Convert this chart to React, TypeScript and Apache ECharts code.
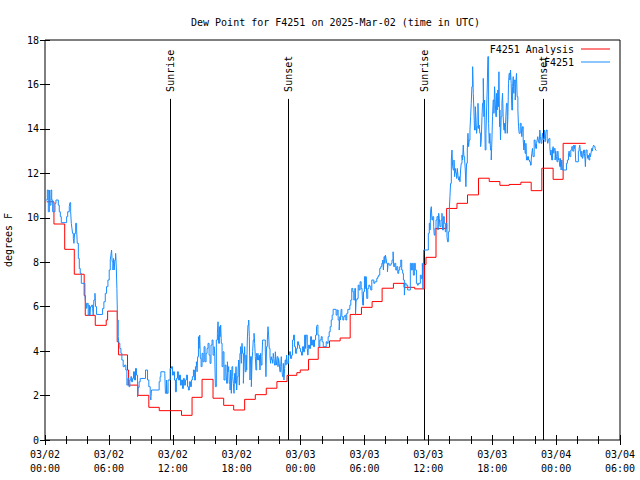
import React, { useEffect, useRef } from "react";
import * as echarts from "echarts";

// Time axis: hours since 2025-03-02 00:00 UTC
const axisMinHours = 0;
const axisMaxHours = 54;
const yTicks = [0, 2, 4, 6, 8, 10, 12, 14, 16, 18];

const titleText = "Dew Point for F4251 on 2025-Mar-02 (time in UTC)";
const yAxisTitle = "degrees F";
const seriesNames = ["F4251 Analysis", "F4251"];

// Sunrise / sunset markers (hours)
const sunEventHours = [11.72, 22.83, 35.56, 46.8];
const sunEventLabels = ["Sunrise", "Sunset", "Sunrise", "Sunset"];
const sunLineTop = 15.35;

// Analysis (hourly steps): [hour, dew point F]
const analysis: [number, number][] = [
  [0.16, 10.72], [0.84, 9.72], [1.85, 8.58], [2.75, 7.46], [3.68, 6.5], [3.78, 5.61],
  [4.72, 5.16], [5.75, 5.4], [5.88, 5.8], [6.78, 4.42], [6.91, 3.83], [7.75, 3.15],
  [7.85, 2.47], [8.72, 2.01], [9.75, 1.47], [10.73, 1.32], [12.82, 1.11], [13.81, 1.92],
  [14.75, 2.73], [15.78, 1.88], [16.78, 1.56], [17.72, 1.35], [18.75, 1.83], [19.75, 2.04],
  [20.78, 2.33], [21.78, 2.63], [22.73, 2.91], [23.65, 3.03], [23.97, 3.15], [24.75, 3.63],
  [25.66, 4.17], [26.72, 4.46], [27.72, 4.59], [28.66, 5.65], [29.72, 5.97], [30.72, 6.23],
  [31.66, 6.83], [32.72, 7.05], [33.72, 6.87], [34.72, 6.8], [35.65, 7.9], [35.78, 8.22],
  [36.72, 9.52], [37.72, 10.42], [38.69, 10.65], [39.68, 11.03], [40.71, 11.78], [41.72, 11.63],
  [42.72, 11.46], [43.59, 11.5], [44.69, 11.6], [45.66, 11.22], [46.66, 12.23], [47.72, 11.73],
  [48.66, 13.35], [50.78, 13.35],
];

// Station observations: [hour, dew point F]
const observations: [number, number][] = [
  [0.1, 10.8], [0.22, 11.25], [0.31, 10.27], [0.41, 11.25], [0.47, 10.57], [0.56, 11.25],
  [0.63, 10.8], [0.72, 10.27], [0.94, 10.65], [1.03, 10.8], [1.25, 10.57], [1.34, 10.27],
  [1.44, 10.05], [1.53, 9.78], [2.03, 10.05], [2.13, 10.27], [2.28, 10.5], [2.34, 10.68],
  [2.41, 10.27], [2.47, 9.75], [2.53, 9.52], [2.59, 9.3], [2.66, 9.07], [2.72, 8.85],
  [2.78, 9.3], [2.88, 9.75], [2.97, 9.45], [3.03, 8.85], [3.13, 8.17], [3.22, 7.72],
  [3.31, 7.5], [3.41, 7.05], [3.75, 6.52], [3.81, 6.15], [3.91, 5.92], [3.97, 6.15],
  [4.06, 5.62], [4.16, 6.07], [4.22, 5.62], [4.28, 6.0], [4.38, 6.07], [4.47, 5.92],
  [4.53, 5.62], [4.59, 6.3], [4.69, 6.6], [4.75, 6.0], [4.84, 5.65], [5.41, 5.92],
  [5.53, 6.22], [5.66, 6.6], [5.78, 6.9], [5.91, 7.2], [6.03, 7.65], [6.13, 8.1],
  [6.19, 8.32], [6.25, 8.55], [6.31, 8.02], [6.38, 7.65], [6.44, 8.17], [6.5, 7.65],
  [6.56, 8.1], [6.63, 8.4], [6.69, 7.87], [6.75, 6.82], [6.81, 5.4], [6.88, 4.65],
  [6.94, 4.35], [7.03, 4.12], [7.13, 3.9], [7.22, 3.6], [7.34, 3.3], [7.47, 3.37],
  [7.59, 3.15], [7.69, 2.47], [7.78, 2.77], [7.88, 2.4], [7.97, 2.7], [8.06, 2.85],
  [8.13, 2.62], [8.22, 2.77], [8.31, 3.07], [8.41, 2.7], [8.5, 3.22], [8.59, 2.92],
  [8.69, 1.95], [8.75, 2.37], [8.84, 2.62], [8.94, 2.77], [9.44, 3.15], [9.63, 2.7],
  [9.75, 2.4], [9.88, 1.95], [9.94, 1.8], [10.0, 2.25], [10.72, 2.62], [10.81, 2.85],
  [10.88, 3.07], [11.25, 3.0], [11.31, 2.1], [11.41, 2.7], [11.47, 2.1], [11.56, 2.7],
  [11.75, 3.22], [11.88, 3.3], [11.97, 2.92], [12.06, 3.07], [12.16, 2.7], [12.25, 2.17],
  [12.34, 2.77], [12.44, 3.07], [12.53, 2.7], [12.63, 2.92], [12.72, 2.47], [12.81, 2.7],
  [12.91, 2.32], [13.0, 2.77], [13.09, 2.47], [13.19, 2.7], [13.28, 2.92], [13.38, 2.4],
  [13.47, 2.25], [13.56, 2.62], [13.66, 2.4], [13.75, 2.7], [13.84, 2.85], [13.94, 3.15],
  [14.03, 2.7], [14.13, 3.3], [14.22, 3.52], [14.28, 3.07], [14.34, 3.75], [14.41, 4.65],
  [14.47, 4.12], [14.53, 4.72], [14.59, 3.67], [14.66, 3.3], [14.75, 3.9], [14.84, 3.52],
  [14.94, 4.2], [15.03, 3.52], [15.13, 3.9], [15.22, 4.12], [15.31, 4.35], [15.41, 3.82],
  [15.5, 3.45], [15.59, 4.27], [15.69, 4.5], [15.78, 3.82], [15.88, 4.2], [15.94, 3.9],
  [16.0, 2.4], [16.09, 4.5], [16.19, 4.8], [16.25, 5.32], [16.31, 4.35], [16.38, 5.1],
  [16.44, 4.65], [16.5, 5.17], [16.56, 4.35], [16.63, 3.3], [16.72, 3.97], [16.81, 2.7],
  [16.91, 3.37], [17.0, 3.07], [17.06, 2.55], [17.13, 3.52], [17.19, 3.07], [17.25, 3.3],
  [17.31, 2.55], [17.38, 2.25], [17.44, 3.15], [17.5, 2.1], [17.56, 3.3], [17.63, 2.85],
  [17.69, 2.55], [17.75, 2.1], [17.81, 3.0], [17.88, 2.55], [17.94, 3.3], [18.0, 2.25],
  [18.06, 2.85], [18.13, 3.15], [18.19, 3.6], [18.25, 2.47], [18.31, 3.9], [18.38, 4.2],
  [18.44, 3.45], [18.5, 4.35], [18.56, 3.9], [18.63, 2.55], [18.69, 3.45], [18.75, 4.2],
  [18.81, 3.07], [18.88, 3.82], [18.94, 3.15], [19.0, 4.5], [19.06, 5.17], [19.13, 5.4],
  [19.19, 4.65], [19.25, 2.7], [19.31, 3.75], [19.38, 2.4], [19.44, 3.52], [19.5, 3.97],
  [19.56, 4.5], [19.63, 4.8], [19.69, 4.35], [19.75, 3.75], [19.81, 3.15], [19.88, 3.9],
  [19.94, 3.6], [20.0, 3.9], [20.06, 3.6], [20.13, 3.82], [20.19, 3.15], [20.25, 3.9],
  [20.31, 3.37], [20.38, 3.75], [20.44, 4.5], [20.69, 4.05], [20.75, 2.85], [20.81, 4.2],
  [20.88, 4.5], [20.94, 5.1], [21.0, 4.72], [21.06, 4.12], [21.13, 3.75], [21.19, 3.45],
  [21.25, 3.75], [21.31, 3.6], [21.38, 3.45], [21.44, 3.9], [21.5, 3.67], [21.56, 3.37],
  [21.63, 3.97], [21.69, 3.6], [21.75, 3.37], [21.81, 3.75], [21.88, 3.3], [21.94, 3.67],
  [22.0, 3.45], [22.06, 3.07], [22.13, 3.3], [22.19, 3.75], [22.25, 3.15], [22.31, 2.85],
  [22.38, 3.45], [22.44, 2.7], [22.5, 3.22], [22.56, 3.6], [22.63, 3.37], [22.69, 3.82],
  [22.75, 3.45], [22.88, 3.82], [22.97, 3.97], [23.06, 3.67], [23.16, 3.82], [23.25, 4.5],
  [23.34, 4.72], [23.44, 4.2], [23.53, 3.9], [23.63, 4.12], [23.72, 4.42], [23.81, 4.27],
  [23.91, 4.12], [24.0, 3.97], [24.09, 3.82], [24.19, 4.2], [24.28, 3.97], [24.38, 4.72],
  [24.47, 4.12], [24.53, 4.72], [24.63, 4.12], [24.69, 3.82], [24.75, 4.27], [24.84, 4.12],
  [24.94, 4.65], [25.03, 4.27], [25.13, 4.5], [25.22, 4.2], [25.31, 4.5], [25.41, 4.72],
  [25.5, 5.1], [25.56, 5.17], [25.63, 4.72], [25.72, 4.2], [25.81, 4.5], [25.94, 4.65],
  [26.03, 4.42], [26.13, 4.2], [26.41, 4.42], [26.5, 4.35], [26.59, 4.65], [26.69, 4.87],
  [26.78, 5.1], [26.88, 5.4], [26.97, 5.62], [27.06, 5.88], [27.34, 5.62], [27.44, 5.85],
  [27.53, 5.4], [27.63, 4.95], [27.69, 5.55], [27.75, 5.4], [27.81, 5.88], [27.88, 5.55],
  [27.97, 5.4], [28.06, 5.55], [28.16, 5.62], [28.25, 5.4], [28.34, 5.7], [28.44, 5.88],
  [28.63, 6.07], [28.72, 6.3], [28.81, 6.82], [28.91, 6.67], [29.0, 6.3], [29.09, 6.82],
  [29.16, 5.62], [29.22, 6.3], [29.31, 6.37], [29.41, 6.97], [29.5, 6.75], [29.59, 7.12],
  [29.69, 6.82], [29.78, 6.67], [29.84, 6.07], [29.91, 6.67], [30.0, 7.35], [30.09, 6.82],
  [30.16, 7.35], [30.22, 6.37], [30.31, 6.82], [30.41, 6.97], [30.5, 6.9], [30.59, 6.75],
  [30.69, 7.2], [30.88, 7.05], [30.97, 7.12], [31.16, 7.27], [31.25, 7.35], [31.34, 7.42],
  [31.44, 7.72], [31.53, 7.8], [31.63, 7.95], [31.72, 8.1], [31.78, 7.65], [31.84, 8.25],
  [31.91, 7.95], [31.97, 8.32], [32.03, 8.17], [32.09, 7.95], [32.16, 7.57], [32.22, 7.95],
  [32.31, 7.87], [32.5, 7.95], [32.59, 8.1], [32.69, 8.47], [32.75, 7.8], [32.84, 7.95],
  [32.94, 7.65], [33.03, 7.8], [33.13, 7.5], [33.22, 7.65], [33.31, 7.8], [33.41, 8.1],
  [33.5, 7.65], [33.59, 7.5], [33.66, 7.2], [33.75, 6.52], [33.81, 7.05], [33.91, 6.97],
  [34.06, 6.75], [34.31, 7.95], [34.41, 7.65], [34.5, 7.95], [34.59, 7.42], [34.69, 7.95],
  [34.78, 7.65], [34.88, 7.05], [34.97, 6.97], [35.06, 7.05], [35.25, 7.42], [35.34, 7.27],
  [35.44, 7.95], [35.5, 6.8], [35.56, 8.55], [36.0, 9.3], [36.09, 9.75], [36.16, 9.45],
  [36.22, 10.35], [36.28, 10.5], [36.34, 9.9], [36.41, 10.05], [36.5, 9.6], [36.56, 9.22],
  [36.63, 9.52], [36.72, 9.9], [36.81, 10.05], [36.91, 9.45], [36.97, 10.2], [37.03, 9.97],
  [37.09, 9.6], [37.19, 9.9], [37.28, 10.2], [37.34, 9.45], [37.41, 10.05], [37.5, 9.75],
  [37.59, 9.37], [37.66, 9.75], [37.75, 9.15], [37.81, 8.92], [37.88, 9.37], [37.97, 10.35],
  [38.03, 10.95], [38.09, 11.55], [38.16, 12.6], [38.22, 13.05], [38.28, 12.3], [38.34, 12.15],
  [38.41, 12.6], [38.47, 11.85], [38.53, 12.22], [38.59, 12.0], [38.66, 11.77], [38.72, 12.22],
  [38.78, 11.92], [38.84, 11.7], [38.91, 11.85], [38.97, 11.62], [39.03, 12.15], [39.09, 12.45],
  [39.16, 12.82], [39.22, 12.6], [39.28, 13.27], [39.34, 12.75], [39.41, 12.6], [39.47, 12.15],
  [39.53, 11.4], [39.59, 12.45], [39.66, 13.05], [39.72, 13.8], [39.78, 13.2], [39.84, 13.5],
  [39.91, 13.95], [39.97, 14.55], [40.03, 15.15], [40.09, 15.9], [40.16, 16.8], [40.22, 15.6],
  [40.28, 14.85], [40.34, 13.95], [40.41, 15.0], [40.47, 14.55], [40.53, 13.8], [40.59, 14.1],
  [40.66, 15.15], [40.72, 14.02], [40.78, 14.17], [40.84, 13.8], [40.91, 13.2], [40.97, 13.5],
  [41.03, 14.4], [41.09, 15.15], [41.16, 16.27], [41.22, 14.55], [41.28, 15.3], [41.34, 13.05],
  [41.41, 13.8], [41.47, 14.85], [41.53, 15.75], [41.59, 17.25], [41.66, 14.25], [41.72, 13.35],
  [41.78, 13.8], [41.84, 13.05], [41.91, 12.6], [41.97, 13.5], [42.03, 14.55], [42.09, 15.3],
  [42.16, 14.7], [42.22, 15.9], [42.28, 15.3], [42.34, 14.55], [42.41, 15.6], [42.47, 14.85],
  [42.53, 15.75], [42.59, 15.0], [42.63, 16.57], [42.69, 14.1], [42.72, 14.85], [42.78, 13.5],
  [42.84, 14.55], [42.91, 15.15], [42.97, 15.6], [43.03, 14.55], [43.09, 13.95], [43.16, 14.25],
  [43.22, 13.8], [43.28, 14.55], [43.34, 15.15], [43.41, 13.8], [43.47, 14.55], [43.53, 16.05],
  [43.59, 16.5], [43.66, 16.2], [43.72, 16.65], [43.78, 16.05], [43.84, 14.85], [43.91, 15.9],
  [43.97, 16.35], [44.03, 15.6], [44.09, 16.2], [44.16, 15.3], [44.22, 16.05], [44.28, 16.5],
  [44.34, 15.45], [44.41, 14.85], [44.47, 14.1], [44.53, 13.8], [44.63, 14.25], [44.72, 14.1],
  [44.78, 13.65], [44.84, 14.1], [44.91, 13.5], [44.97, 13.05], [45.03, 13.5], [45.09, 12.9],
  [45.16, 13.35], [45.22, 12.6], [45.31, 12.75], [45.41, 12.6], [45.5, 12.52], [45.59, 12.37],
  [45.66, 12.6], [45.72, 12.9], [45.78, 13.12], [45.84, 12.75], [45.94, 13.5], [46.03, 13.42],
  [46.09, 13.12], [46.16, 13.35], [46.22, 13.5], [46.28, 13.65], [46.34, 13.42], [46.41, 13.35],
  [46.47, 13.95], [46.53, 13.65], [46.59, 13.35], [46.66, 13.5], [46.72, 13.8], [46.78, 13.5],
  [46.84, 13.57], [46.91, 13.95], [46.97, 13.42], [47.03, 13.8], [47.09, 13.95], [47.16, 13.5],
  [47.22, 13.35], [47.28, 13.5], [47.34, 13.57], [47.41, 13.2], [47.47, 12.82], [47.53, 13.05],
  [47.59, 12.6], [47.66, 13.05], [47.72, 13.2], [47.78, 12.9], [47.84, 13.12], [47.91, 12.6],
  [47.97, 13.0], [48.03, 12.75], [48.09, 12.52], [48.16, 13.0], [48.22, 12.6], [48.28, 12.67],
  [48.34, 12.3], [48.41, 12.67], [48.47, 12.15], [48.53, 12.6], [48.59, 12.15], [48.97, 12.45],
  [49.06, 12.6], [49.16, 12.82], [49.22, 13.0], [49.28, 12.75], [49.38, 13.05], [49.47, 13.2],
  [49.56, 13.0], [49.66, 13.27], [49.72, 13.12], [49.78, 13.27], [49.84, 12.52], [50.09, 13.0],
  [50.16, 13.12], [50.22, 13.27], [50.28, 13.0], [50.34, 12.75], [50.41, 13.0], [50.47, 12.67],
  [50.53, 12.75], [50.59, 13.05], [50.66, 12.9], [50.72, 12.6], [50.75, 12.3], [50.81, 13.05],
  [50.91, 12.9], [50.97, 12.67], [51.03, 12.82], [51.09, 12.6], [51.16, 12.9], [51.22, 12.75],
  [51.28, 12.9], [51.34, 13.12], [51.41, 13.0], [51.47, 13.2], [51.53, 13.27], [51.59, 13.2],
  [51.66, 13.12], [51.72, 13.05], [51.78, 13.02],
];

const MONO = '"DejaVu Sans Mono", "Liberation Mono", monospace';
const RED = "#ff0000";
const BLUE = "#1a8cff";

function timeLabel(h: number): string {
  const day = 2 + Math.floor(h / 24);
  const hour = Math.round(h % 24);
  const dd = String(day).padStart(2, "0");
  const hh = String(hour).padStart(2, "0");
  return `03/${dd}\n${hh}:00`;
}

export default function App() {
  const ref = useRef<HTMLDivElement>(null);

  useEffect(() => {
    document.body.style.margin = "0";
    if (!ref.current) return;
    const chart = echarts.init(ref.current, undefined, { renderer: "svg" });

    const xCommon = {
      type: "value" as const,
      min: axisMinHours,
      max: axisMaxHours,
      interval: 6,
      axisLine: { show: false },
      splitLine: { show: false },
      axisTick: { show: true, inside: true, length: 5, lineStyle: { color: "#000" } },
      minorTick: { show: true, splitNumber: 3, length: 4, lineStyle: { color: "#000" } },
    };
    const yCommon = {
      type: "value" as const,
      min: yTicks[0],
      max: yTicks[yTicks.length - 1],
      interval: 2,
      axisLine: { show: false },
      splitLine: { show: false },
      axisTick: { show: true, inside: true, length: 5, lineStyle: { color: "#000" } },
    };

    chart.setOption({
      animation: false,
      backgroundColor: "#fff",
      color: [RED, BLUE],
      title: {
        text: titleText,
        left: 186,
        top: 12,
        textStyle: { fontFamily: MONO, fontSize: 10, fontWeight: "normal", color: "#000" },
      },
      legend: {
        data: seriesNames,
        orient: "vertical",
        align: "right",
        right: 30,
        top: 44,
        icon: "rect",
        itemWidth: 29,
        itemHeight: 1,
        itemGap: 3,
        padding: 0,
        itemStyle: { borderWidth: 0 },
        textStyle: { fontFamily: MONO, fontSize: 10, color: "#000", padding: [0, 2, 0, 0] },
        selectedMode: false,
      },
      grid: {
        left: 45,
        right: 20,
        top: 40,
        bottom: 40,
        containLabel: false,
        outerBoundsMode: "none",
        show: true,
        borderColor: "#000",
        borderWidth: 1,
        backgroundColor: "transparent",
      },
      xAxis: [
        {
          ...xCommon,
          position: "bottom",
          axisLabel: {
            formatter: (v: number) => timeLabel(v),
            fontFamily: MONO,
            fontSize: 10,
            color: "#000",
            margin: 7,
            lineHeight: 14,
          },
        },
        { ...xCommon, position: "top", axisLabel: { show: false } },
      ],
      yAxis: [
        {
          ...yCommon,
          position: "left",
          name: yAxisTitle,
          nameLocation: "middle",
          nameGap: 32,
          nameRotate: 90,
          nameTextStyle: { fontFamily: MONO, fontSize: 10, color: "#000" },
          axisLabel: { fontFamily: MONO, fontSize: 10, color: "#000", margin: 6 },
        },
        { ...yCommon, position: "right", axisLabel: { show: false } },
      ],
      series: [
        {
          name: seriesNames[0],
          type: "line",
          step: "end",
          showSymbol: false,
          symbol: "none",
          data: analysis,
          color: RED,
          lineStyle: { color: RED, width: 1 },
          itemStyle: { color: RED },
          z: 2,
        },
        {
          name: seriesNames[1],
          type: "line",
          step: "end",
          showSymbol: false,
          symbol: "none",
          data: observations,
          color: BLUE,
          lineStyle: { color: BLUE, width: 1 },
          itemStyle: { color: BLUE },
          z: 3,
        },
        {
          name: "sun",
          type: "custom",
          silent: true,
          data: sunEventHours.map((h) => [h, 0]),
          renderItem: (params: any, api: any) => {
            const t = api.value(0);
            const p0 = api.coord([t, 0]);
            const p1 = api.coord([t, sunLineTop]);
            return {
              type: "group",
              children: [
                {
                  type: "line",
                  shape: { x1: Math.round(p0[0]) + 0.5, y1: p0[1], x2: Math.round(p1[0]) + 0.5, y2: p1[1] },
                  style: { stroke: "#000", lineWidth: 1 },
                },
                {
                  type: "text",
                  x: Math.round(p1[0]) + 0.5,
                  y: p1[1] - 7,
                  rotation: Math.PI / 2,
                  style: {
                    text: sunEventLabels[params.dataIndex],
                    textAlign: "left",
                    textVerticalAlign: "middle",
                    font: `10px ${MONO}`,
                    fill: "#000",
                  },
                },
              ],
            };
          },
          z: 1,
        },
      ],
    });

    return () => chart.dispose();
  }, []);

  return <div ref={ref} style={{ width: 640, height: 480 }} />;
}
